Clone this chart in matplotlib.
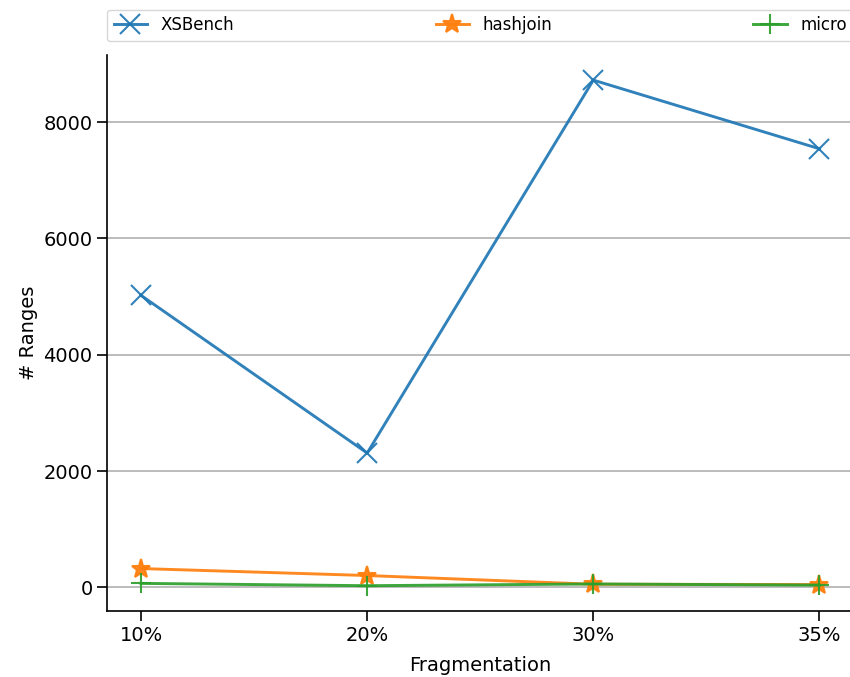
import matplotlib
matplotlib.use("Agg")
import matplotlib.pyplot as plt
import numpy as np

# Number of ranges per workload at each fragmentation level
fragmentation = ["10%", "20%", "30%", "35%"]
xsbench = [5020, 2310, 8720, 7540]
hashjoin = [325, 205, 55, 50]
micro = [70, 30, 60, 40]

fig = plt.figure(figsize=(8.5, 6.77), dpi=100)
# axes runs slightly past the right edge of the figure
ax = fig.add_axes([0.126, 0.0975, 0.878, 0.8215])

x = np.arange(len(fragmentation))
style = dict(markersize=14, linewidth=2.1, markeredgewidth=1.5, alpha=0.92)
ax.plot(x, xsbench, marker="x", label="XSBench", **style)
ax.plot(x, hashjoin, marker="*", label="hashjoin", **style)
ax.plot(x, micro, marker="+", label="micro", **style)

ax.set_xticks(x)
ax.set_xticklabels(fragmentation)
ax.tick_params(labelsize=14, length=7, width=1.2)
ax.set_yticks([0, 2000, 4000, 6000, 8000])
ax.yaxis.grid(True, color="#b0b0b0", linewidth=1.2)
ax.set_axisbelow(True)
ax.spines["top"].set_visible(False)
ax.spines["right"].set_visible(False)
ax.spines["left"].set_linewidth(1.2)
ax.spines["bottom"].set_linewidth(1.2)

ax.set_xlabel("Fragmentation", fontsize=14, labelpad=8)
ax.set_ylabel("# Ranges", fontsize=14, labelpad=4)

ax.legend(loc="lower left", bbox_to_anchor=(0, 1.025, 1, 0.05), mode="expand",
          ncol=3, borderaxespad=0, fontsize=12)

fig.savefig("out.png", dpi=100)
